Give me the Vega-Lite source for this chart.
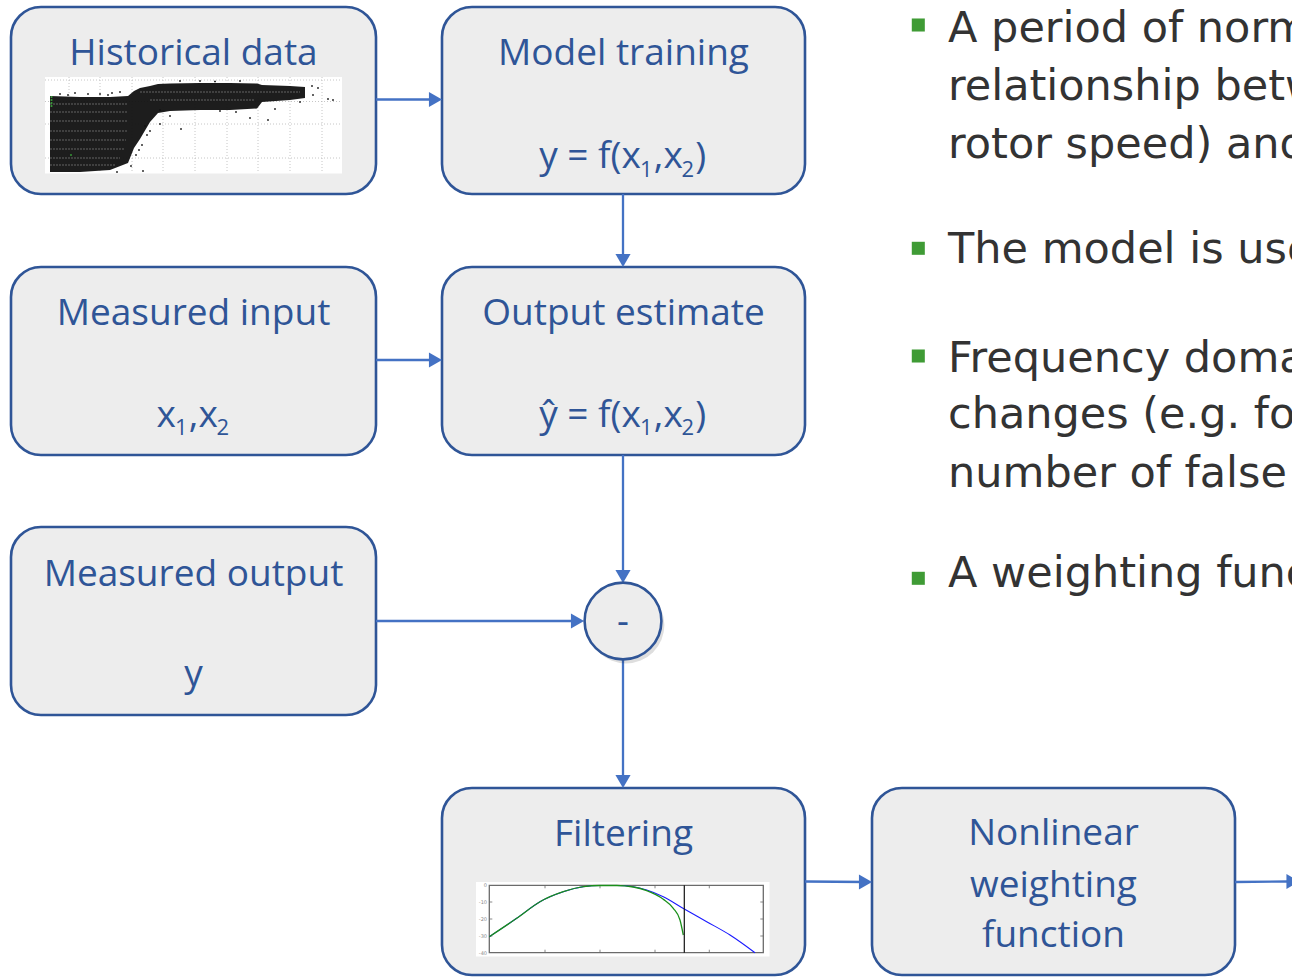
{
  "$schema": "https://vega.github.io/schema/vega-lite/v6.json",
  "width": 1292,
  "height": 977,
  "autosize": {"type": "fit", "contains": "padding"},
  "padding": 0,
  "background": "white",
  "config": {"view": {"stroke": null}},
  "datasets": {
    "boxes": [
      {"name": "Historical data", "x": 11, "x2": 376, "y": 7, "y2": 194},
      {"name": "Model training", "x": 442, "x2": 805, "y": 7, "y2": 194},
      {"name": "Measured input", "x": 11, "x2": 376, "y": 267, "y2": 455},
      {"name": "Output estimate", "x": 442, "x2": 805, "y": 267, "y2": 455},
      {"name": "Measured output", "x": 11, "x2": 376, "y": 527, "y2": 715},
      {"name": "Filtering", "x": 442, "x2": 805, "y": 788, "y2": 975},
      {"name": "Nonlinear weighting function", "x": 872, "x2": 1235, "y": 788, "y2": 975}
    ],
    "boxText": [
      {"text": "Historical data", "x": 193.5, "y": 65},
      {"text": "Model training", "x": 623.5, "y": 65},
      {"text": "Measured input", "x": 193.5, "y": 325},
      {"text": "Output estimate", "x": 623.5, "y": 325},
      {"text": "Measured output", "x": 193.5, "y": 585.5},
      {"text": "y", "x": 193.5, "y": 686},
      {"text": "Filtering", "x": 623.5, "y": 845.5},
      {"text": "Nonlinear", "x": 1053.5, "y": 845},
      {"text": "weighting", "x": 1053.5, "y": 896.5},
      {"text": "function", "x": 1053.5, "y": 946.5},
      {"text": "-", "x": 623, "y": 634}
    ],
    "formulaMain": [
      {"text": "y = f(x", "x": 539.2, "y": 168.3},
      {"text": ",x", "x": 653.8, "y": 168.3},
      {"text": ")", "x": 695.2, "y": 168.3},
      {"text": "ŷ = f(x", "x": 539.2, "y": 426.7},
      {"text": ",x", "x": 653.8, "y": 426.7},
      {"text": ")", "x": 695.2, "y": 426.7},
      {"text": "x", "x": 156.5, "y": 426.7},
      {"text": ",x", "x": 188.8, "y": 426.7}
    ],
    "formulaSub": [
      {"text": "1", "x": 640.1, "y": 177},
      {"text": "2", "x": 681.5, "y": 177},
      {"text": "1", "x": 640.1, "y": 435.3},
      {"text": "2", "x": 681.5, "y": 435.3},
      {"text": "1", "x": 175.1, "y": 435.3},
      {"text": "2", "x": 216.5, "y": 435.3}
    ],
    "arrows": [
      {"x": 376, "y": 99.5, "x2": 436, "y2": 99.5},
      {"x": 623, "y": 194, "x2": 623, "y2": 261},
      {"x": 376, "y": 360, "x2": 436, "y2": 360},
      {"x": 623, "y": 455, "x2": 623, "y2": 577},
      {"x": 376, "y": 621, "x2": 578, "y2": 621},
      {"x": 623, "y": 659, "x2": 623, "y2": 781},
      {"x": 805, "y": 881.5, "x2": 865, "y2": 882},
      {"x": 1235, "y": 882, "x2": 1288, "y2": 881.5}
    ],
    "headsRight": [
      {"x": 435.5, "y": 99.5},
      {"x": 435.5, "y": 360},
      {"x": 577.5, "y": 621},
      {"x": 865.5, "y": 882},
      {"x": 1293, "y": 881.5}
    ],
    "headsDown": [
      {"x": 623, "y": 260.5},
      {"x": 623, "y": 576.5},
      {"x": 623, "y": 781.5}
    ],
    "junction": [{"x": 623, "y": 621}],
    "bullets": [
      {"x": 918.3, "y": 25},
      {"x": 918.3, "y": 248.3},
      {"x": 918.3, "y": 356},
      {"x": 918.3, "y": 578.3}
    ],
    "bulletText": [
      {"text": "A period of normal", "x": 948, "y": 41.7},
      {"text": "relationship between", "x": 948, "y": 100},
      {"text": "rotor speed) and", "x": 948, "y": 158.3},
      {"text": "The model is used", "x": 948, "y": 263.3},
      {"text": "Frequency domain", "x": 948, "y": 371.7},
      {"text": "changes (e.g. for", "x": 948, "y": 428.3},
      {"text": "number of false", "x": 948, "y": 486.7},
      {"text": "A weighting function", "x": 948, "y": 586.7}
    ],
    "insetBg": [
      {"x": 45, "x2": 342, "y": 77, "y2": 173.5},
      {"x": 476, "x2": 769.5, "y": 882, "y2": 956.5}
    ],
    "scatterGrid": [
      {"x": 69, "x2": 69, "y": 77, "y2": 173},
      {"x": 100, "x2": 100, "y": 77, "y2": 173},
      {"x": 132, "x2": 132, "y": 77, "y2": 173},
      {"x": 163, "x2": 163, "y": 77, "y2": 173},
      {"x": 195, "x2": 195, "y": 77, "y2": 173},
      {"x": 227, "x2": 227, "y": 77, "y2": 173},
      {"x": 258, "x2": 258, "y": 77, "y2": 173},
      {"x": 290, "x2": 290, "y": 77, "y2": 173},
      {"x": 322, "x2": 322, "y": 77, "y2": 173},
      {"x": 45, "x2": 342, "y": 80, "y2": 80},
      {"x": 45, "x2": 342, "y": 101.5, "y2": 101.5},
      {"x": 45, "x2": 342, "y": 124, "y2": 124},
      {"x": 45, "x2": 342, "y": 158, "y2": 158}
    ],
    "scatterBand": [
      {"x": 50, "y": 96, "y2": 172},
      {"x": 80, "y": 97, "y2": 172},
      {"x": 110, "y": 97, "y2": 170},
      {"x": 128, "y": 96, "y2": 163},
      {"x": 134, "y": 91, "y2": 148},
      {"x": 140, "y": 88, "y2": 139},
      {"x": 150, "y": 86, "y2": 122},
      {"x": 158, "y": 84, "y2": 113},
      {"x": 170, "y": 83.5, "y2": 111},
      {"x": 200, "y": 83, "y2": 110},
      {"x": 230, "y": 83, "y2": 110},
      {"x": 257, "y": 83.5, "y2": 108.5},
      {"x": 262, "y": 85, "y2": 102},
      {"x": 290, "y": 86, "y2": 100},
      {"x": 305, "y": 87, "y2": 98}
    ],
    "scatterStripes": [
      {"x": 50, "x2": 128, "y": 104, "y2": 104},
      {"x": 50, "x2": 128, "y": 112, "y2": 112},
      {"x": 50, "x2": 128, "y": 121, "y2": 121},
      {"x": 50, "x2": 128, "y": 131, "y2": 131},
      {"x": 50, "x2": 126, "y": 140, "y2": 140},
      {"x": 50, "x2": 124, "y": 149, "y2": 149},
      {"x": 50, "x2": 120, "y": 158, "y2": 158},
      {"x": 50, "x2": 115, "y": 165, "y2": 165},
      {"x": 140, "x2": 300, "y": 92, "y2": 92},
      {"x": 150, "x2": 255, "y": 100, "y2": 100}
    ],
    "scatterDots": [
      {"x": 145, "y": 126}, {"x": 160, "y": 124}, {"x": 150, "y": 131}, {"x": 147, "y": 135},
      {"x": 139, "y": 150}, {"x": 142, "y": 145}, {"x": 136, "y": 155}, {"x": 131, "y": 166},
      {"x": 181, "y": 129}, {"x": 170, "y": 116}, {"x": 250, "y": 118}, {"x": 268, "y": 120},
      {"x": 275, "y": 109}, {"x": 300, "y": 102}, {"x": 313, "y": 95}, {"x": 318, "y": 88},
      {"x": 328, "y": 99}, {"x": 333, "y": 100}, {"x": 312, "y": 86}, {"x": 160, "y": 110},
      {"x": 117, "y": 172}, {"x": 143, "y": 171}, {"x": 60, "y": 94}, {"x": 75, "y": 93},
      {"x": 100, "y": 94}, {"x": 120, "y": 92}, {"x": 220, "y": 111}, {"x": 236, "y": 112},
      {"x": 68, "y": 95}, {"x": 88, "y": 94}, {"x": 108, "y": 95}, {"x": 112, "y": 93},
      {"x": 180, "y": 81}, {"x": 200, "y": 81}, {"x": 215, "y": 81.5}, {"x": 240, "y": 81}
    ],
    "scatterGreen": [
      {"x": 51.5, "y": 97}, {"x": 51.5, "y": 100}, {"x": 51.5, "y": 103}, {"x": 51.5, "y": 106}, {"x": 71, "y": 155}
    ],
    "filterFrame": [{"x": 489.3, "x2": 763.3, "y": 885.3, "y2": 952.7}],
    "filterTicks": [
      {"x": 545, "x2": 545, "y": 885.3, "y2": 888.3},
      {"x": 600, "x2": 600, "y": 885.3, "y2": 888.3},
      {"x": 655, "x2": 655, "y": 885.3, "y2": 888.3},
      {"x": 709.3, "x2": 709.3, "y": 885.3, "y2": 888.3},
      {"x": 545, "x2": 545, "y": 949.7, "y2": 952.7},
      {"x": 600, "x2": 600, "y": 949.7, "y2": 952.7},
      {"x": 655, "x2": 655, "y": 949.7, "y2": 952.7},
      {"x": 709.3, "x2": 709.3, "y": 949.7, "y2": 952.7},
      {"x": 489.3, "x2": 492.3, "y": 902, "y2": 902},
      {"x": 489.3, "x2": 492.3, "y": 919, "y2": 919},
      {"x": 489.3, "x2": 492.3, "y": 936, "y2": 936},
      {"x": 760.3, "x2": 763.3, "y": 902, "y2": 902},
      {"x": 760.3, "x2": 763.3, "y": 919, "y2": 919},
      {"x": 760.3, "x2": 763.3, "y": 936, "y2": 936}
    ],
    "filterLabels": [
      {"text": "0", "x": 487, "y": 885.3},
      {"text": "-10", "x": 487, "y": 902},
      {"text": "-20", "x": 487, "y": 919},
      {"text": "-30", "x": 487, "y": 936},
      {"text": "-40", "x": 487, "y": 952.7}
    ],
    "filterBlue": [
      {"x": 489.3, "y": 936.7}, {"x": 516.7, "y": 918.3}, {"x": 540, "y": 901.7},
      {"x": 563.3, "y": 891.7}, {"x": 583.3, "y": 886.7}, {"x": 600, "y": 885.5},
      {"x": 616.7, "y": 885.5}, {"x": 633.3, "y": 886.7}, {"x": 646.7, "y": 890},
      {"x": 663.3, "y": 896.7}, {"x": 684.3, "y": 909}, {"x": 706.7, "y": 921.7},
      {"x": 730, "y": 935}, {"x": 755, "y": 952.7}
    ],
    "filterGreen": [
      {"x": 489.3, "y": 936.7}, {"x": 516.7, "y": 918.3}, {"x": 540, "y": 901.7},
      {"x": 563.3, "y": 891.7}, {"x": 583.3, "y": 886.7}, {"x": 600, "y": 885.5},
      {"x": 616.7, "y": 885.5}, {"x": 633.3, "y": 887}, {"x": 646.7, "y": 890.7},
      {"x": 663.3, "y": 899.3}, {"x": 673.3, "y": 908.3}, {"x": 680, "y": 920},
      {"x": 683.3, "y": 935}
    ],
    "filterCut": [{"x": 684.3, "x2": 684.3, "y": 885.3, "y2": 952.7}]
  },
  "layer": [
    {
      "data": {"name": "boxes"},
      "mark": {"type": "rect", "cornerRadius": 30, "fill": "#000000", "opacity": 0.1, "xOffset": 6, "yOffset": 7, "clip": true},
      "encoding": {
        "x": {"field": "x", "type": "quantitative", "scale": {"domain": [0, 1292], "nice": false, "zero": false}, "axis": null},
        "x2": {"field": "x2"},
        "y": {"field": "y", "type": "quantitative", "scale": {"domain": [0, 977], "nice": false, "zero": false, "reverse": true}, "axis": null},
        "y2": {"field": "y2"}
      }
    },
    {
      "data": {"name": "boxes"},
      "mark": {"type": "rect", "cornerRadius": 30, "fill": "#000000", "opacity": 0.15, "xOffset": 3.5, "yOffset": 4, "clip": true},
      "encoding": {
        "x": {"field": "x", "type": "quantitative", "scale": {"domain": [0, 1292], "nice": false, "zero": false}, "axis": null},
        "x2": {"field": "x2"},
        "y": {"field": "y", "type": "quantitative", "scale": {"domain": [0, 977], "nice": false, "zero": false, "reverse": true}, "axis": null},
        "y2": {"field": "y2"}
      }
    },
    {
      "data": {"name": "boxes"},
      "mark": {"type": "rect", "cornerRadius": 30, "fill": "#ededed", "stroke": "#2f5597", "strokeWidth": 2.6},
      "encoding": {
        "x": {"field": "x", "type": "quantitative", "scale": {"domain": [0, 1292], "nice": false, "zero": false}, "axis": null},
        "x2": {"field": "x2"},
        "y": {"field": "y", "type": "quantitative", "scale": {"domain": [0, 977], "nice": false, "zero": false, "reverse": true}, "axis": null},
        "y2": {"field": "y2"}
      }
    },
    {
      "data": {"name": "insetBg"},
      "mark": {"type": "rect", "fill": "#ffffff"},
      "encoding": {
        "x": {"field": "x", "type": "quantitative", "scale": {"domain": [0, 1292], "nice": false, "zero": false}, "axis": null},
        "x2": {"field": "x2"},
        "y": {"field": "y", "type": "quantitative", "scale": {"domain": [0, 977], "nice": false, "zero": false, "reverse": true}, "axis": null},
        "y2": {"field": "y2"}
      }
    },
    {
      "data": {"name": "scatterGrid"},
      "mark": {"type": "rule", "stroke": "#b8b8b8", "strokeWidth": 0.8, "strokeDash": [1, 2]},
      "encoding": {
        "x": {"field": "x", "type": "quantitative", "scale": {"domain": [0, 1292], "nice": false, "zero": false}, "axis": null},
        "x2": {"field": "x2"},
        "y": {"field": "y", "type": "quantitative", "scale": {"domain": [0, 977], "nice": false, "zero": false, "reverse": true}, "axis": null},
        "y2": {"field": "y2"}
      }
    },
    {
      "data": {"name": "scatterBand"},
      "mark": {"type": "area", "color": "#111111", "opacity": 0.95},
      "encoding": {
        "x": {"field": "x", "type": "quantitative", "scale": {"domain": [0, 1292], "nice": false, "zero": false}, "axis": null},
        "y": {"field": "y", "type": "quantitative", "scale": {"domain": [0, 977], "nice": false, "zero": false, "reverse": true}, "axis": null},
        "y2": {"field": "y2"}
      }
    },
    {
      "data": {"name": "scatterStripes"},
      "mark": {"type": "rule", "stroke": "#ffffff", "strokeWidth": 0.7, "opacity": 0.45, "strokeDash": [2, 1]},
      "encoding": {
        "x": {"field": "x", "type": "quantitative", "scale": {"domain": [0, 1292], "nice": false, "zero": false}, "axis": null},
        "x2": {"field": "x2"},
        "y": {"field": "y", "type": "quantitative", "scale": {"domain": [0, 977], "nice": false, "zero": false, "reverse": true}, "axis": null},
        "y2": {"field": "y2"}
      }
    },
    {
      "data": {"name": "scatterDots"},
      "mark": {"type": "point", "shape": "square", "filled": true, "size": 3, "color": "#111111", "opacity": 1},
      "encoding": {
        "x": {"field": "x", "type": "quantitative", "scale": {"domain": [0, 1292], "nice": false, "zero": false}, "axis": null},
        "y": {"field": "y", "type": "quantitative", "scale": {"domain": [0, 977], "nice": false, "zero": false, "reverse": true}, "axis": null}
      }
    },
    {
      "data": {"name": "scatterGreen"},
      "mark": {"type": "point", "shape": "square", "filled": true, "size": 3, "color": "#3aa63a", "opacity": 1},
      "encoding": {
        "x": {"field": "x", "type": "quantitative", "scale": {"domain": [0, 1292], "nice": false, "zero": false}, "axis": null},
        "y": {"field": "y", "type": "quantitative", "scale": {"domain": [0, 977], "nice": false, "zero": false, "reverse": true}, "axis": null}
      }
    },
    {
      "data": {"name": "filterFrame"},
      "mark": {"type": "rect", "fill": null, "fillOpacity": 0, "stroke": "#6b6b6b", "strokeWidth": 1.3},
      "encoding": {
        "x": {"field": "x", "type": "quantitative", "scale": {"domain": [0, 1292], "nice": false, "zero": false}, "axis": null},
        "x2": {"field": "x2"},
        "y": {"field": "y", "type": "quantitative", "scale": {"domain": [0, 977], "nice": false, "zero": false, "reverse": true}, "axis": null},
        "y2": {"field": "y2"}
      }
    },
    {
      "data": {"name": "filterTicks"},
      "mark": {"type": "rule", "stroke": "#6b6b6b", "strokeWidth": 0.8},
      "encoding": {
        "x": {"field": "x", "type": "quantitative", "scale": {"domain": [0, 1292], "nice": false, "zero": false}, "axis": null},
        "x2": {"field": "x2"},
        "y": {"field": "y", "type": "quantitative", "scale": {"domain": [0, 977], "nice": false, "zero": false, "reverse": true}, "axis": null},
        "y2": {"field": "y2"}
      }
    },
    {
      "data": {"name": "filterLabels"},
      "mark": {"type": "text", "align": "right", "baseline": "middle", "font": "DejaVu Sans", "fontSize": 5, "color": "#8a8a8a"},
      "encoding": {
        "x": {"field": "x", "type": "quantitative", "scale": {"domain": [0, 1292], "nice": false, "zero": false}, "axis": null},
        "y": {"field": "y", "type": "quantitative", "scale": {"domain": [0, 977], "nice": false, "zero": false, "reverse": true}, "axis": null},
        "text": {"field": "text"}
      }
    },
    {
      "data": {"name": "filterBlue"},
      "mark": {"type": "line", "color": "#1a1aff", "strokeWidth": 1.1, "interpolate": "monotone"},
      "encoding": {
        "x": {"field": "x", "type": "quantitative", "scale": {"domain": [0, 1292], "nice": false, "zero": false}, "axis": null},
        "y": {"field": "y", "type": "quantitative", "scale": {"domain": [0, 977], "nice": false, "zero": false, "reverse": true}, "axis": null}
      }
    },
    {
      "data": {"name": "filterGreen"},
      "mark": {"type": "line", "color": "#1a8f1a", "strokeWidth": 1.3, "interpolate": "monotone"},
      "encoding": {
        "x": {"field": "x", "type": "quantitative", "scale": {"domain": [0, 1292], "nice": false, "zero": false}, "axis": null},
        "y": {"field": "y", "type": "quantitative", "scale": {"domain": [0, 977], "nice": false, "zero": false, "reverse": true}, "axis": null}
      }
    },
    {
      "data": {"name": "filterCut"},
      "mark": {"type": "rule", "stroke": "#111111", "strokeWidth": 1.2},
      "encoding": {
        "x": {"field": "x", "type": "quantitative", "scale": {"domain": [0, 1292], "nice": false, "zero": false}, "axis": null},
        "x2": {"field": "x2"},
        "y": {"field": "y", "type": "quantitative", "scale": {"domain": [0, 977], "nice": false, "zero": false, "reverse": true}, "axis": null},
        "y2": {"field": "y2"}
      }
    },
    {
      "data": {"name": "arrows"},
      "mark": {"type": "rule", "stroke": "#4472c4", "strokeWidth": 2.3},
      "encoding": {
        "x": {"field": "x", "type": "quantitative", "scale": {"domain": [0, 1292], "nice": false, "zero": false}, "axis": null},
        "x2": {"field": "x2"},
        "y": {"field": "y", "type": "quantitative", "scale": {"domain": [0, 977], "nice": false, "zero": false, "reverse": true}, "axis": null},
        "y2": {"field": "y2"}
      }
    },
    {
      "data": {"name": "headsRight"},
      "mark": {"type": "point", "shape": "triangle-right", "filled": true, "size": 230, "color": "#4472c4", "opacity": 1, "clip": true},
      "encoding": {
        "x": {"field": "x", "type": "quantitative", "scale": {"domain": [0, 1292], "nice": false, "zero": false}, "axis": null},
        "y": {"field": "y", "type": "quantitative", "scale": {"domain": [0, 977], "nice": false, "zero": false, "reverse": true}, "axis": null}
      }
    },
    {
      "data": {"name": "headsDown"},
      "mark": {"type": "point", "shape": "triangle-down", "filled": true, "size": 230, "color": "#4472c4", "opacity": 1},
      "encoding": {
        "x": {"field": "x", "type": "quantitative", "scale": {"domain": [0, 1292], "nice": false, "zero": false}, "axis": null},
        "y": {"field": "y", "type": "quantitative", "scale": {"domain": [0, 977], "nice": false, "zero": false, "reverse": true}, "axis": null}
      }
    },
    {
      "data": {"name": "junction"},
      "mark": {"type": "point", "shape": "circle", "filled": true, "size": 5900, "color": "#000000", "opacity": 0.13, "xOffset": 3, "yOffset": 4},
      "encoding": {
        "x": {"field": "x", "type": "quantitative", "scale": {"domain": [0, 1292], "nice": false, "zero": false}, "axis": null},
        "y": {"field": "y", "type": "quantitative", "scale": {"domain": [0, 977], "nice": false, "zero": false, "reverse": true}, "axis": null}
      }
    },
    {
      "data": {"name": "junction"},
      "mark": {"type": "point", "shape": "circle", "filled": true, "size": 5900, "fill": "#ededed", "stroke": "#2f5597", "strokeWidth": 2.6, "opacity": 1},
      "encoding": {
        "x": {"field": "x", "type": "quantitative", "scale": {"domain": [0, 1292], "nice": false, "zero": false}, "axis": null},
        "y": {"field": "y", "type": "quantitative", "scale": {"domain": [0, 977], "nice": false, "zero": false, "reverse": true}, "axis": null}
      }
    },
    {
      "data": {"name": "boxText"},
      "mark": {"type": "text", "align": "center", "baseline": "alphabetic", "font": "Open Sans", "fontSize": 37, "color": "#2f5597"},
      "encoding": {
        "x": {"field": "x", "type": "quantitative", "scale": {"domain": [0, 1292], "nice": false, "zero": false}, "axis": null},
        "y": {"field": "y", "type": "quantitative", "scale": {"domain": [0, 977], "nice": false, "zero": false, "reverse": true}, "axis": null},
        "text": {"field": "text"}
      }
    },
    {
      "data": {"name": "formulaMain"},
      "mark": {"type": "text", "align": "left", "baseline": "alphabetic", "font": "Open Sans", "fontSize": 37, "color": "#2f5597"},
      "encoding": {
        "x": {"field": "x", "type": "quantitative", "scale": {"domain": [0, 1292], "nice": false, "zero": false}, "axis": null},
        "y": {"field": "y", "type": "quantitative", "scale": {"domain": [0, 977], "nice": false, "zero": false, "reverse": true}, "axis": null},
        "text": {"field": "text"}
      }
    },
    {
      "data": {"name": "formulaSub"},
      "mark": {"type": "text", "align": "left", "baseline": "alphabetic", "font": "Open Sans", "fontSize": 22, "color": "#2f5597"},
      "encoding": {
        "x": {"field": "x", "type": "quantitative", "scale": {"domain": [0, 1292], "nice": false, "zero": false}, "axis": null},
        "y": {"field": "y", "type": "quantitative", "scale": {"domain": [0, 977], "nice": false, "zero": false, "reverse": true}, "axis": null},
        "text": {"field": "text"}
      }
    },
    {
      "data": {"name": "bullets"},
      "mark": {"type": "point", "shape": "square", "filled": true, "size": 170, "color": "#3f9b35", "opacity": 1},
      "encoding": {
        "x": {"field": "x", "type": "quantitative", "scale": {"domain": [0, 1292], "nice": false, "zero": false}, "axis": null},
        "y": {"field": "y", "type": "quantitative", "scale": {"domain": [0, 977], "nice": false, "zero": false, "reverse": true}, "axis": null}
      }
    },
    {
      "data": {"name": "bulletText"},
      "mark": {"type": "text", "align": "left", "baseline": "alphabetic", "font": "DejaVu Sans", "fontSize": 43, "color": "#333333", "clip": true},
      "encoding": {
        "x": {"field": "x", "type": "quantitative", "scale": {"domain": [0, 1292], "nice": false, "zero": false}, "axis": null},
        "y": {"field": "y", "type": "quantitative", "scale": {"domain": [0, 977], "nice": false, "zero": false, "reverse": true}, "axis": null},
        "text": {"field": "text"}
      }
    }
  ]
}
